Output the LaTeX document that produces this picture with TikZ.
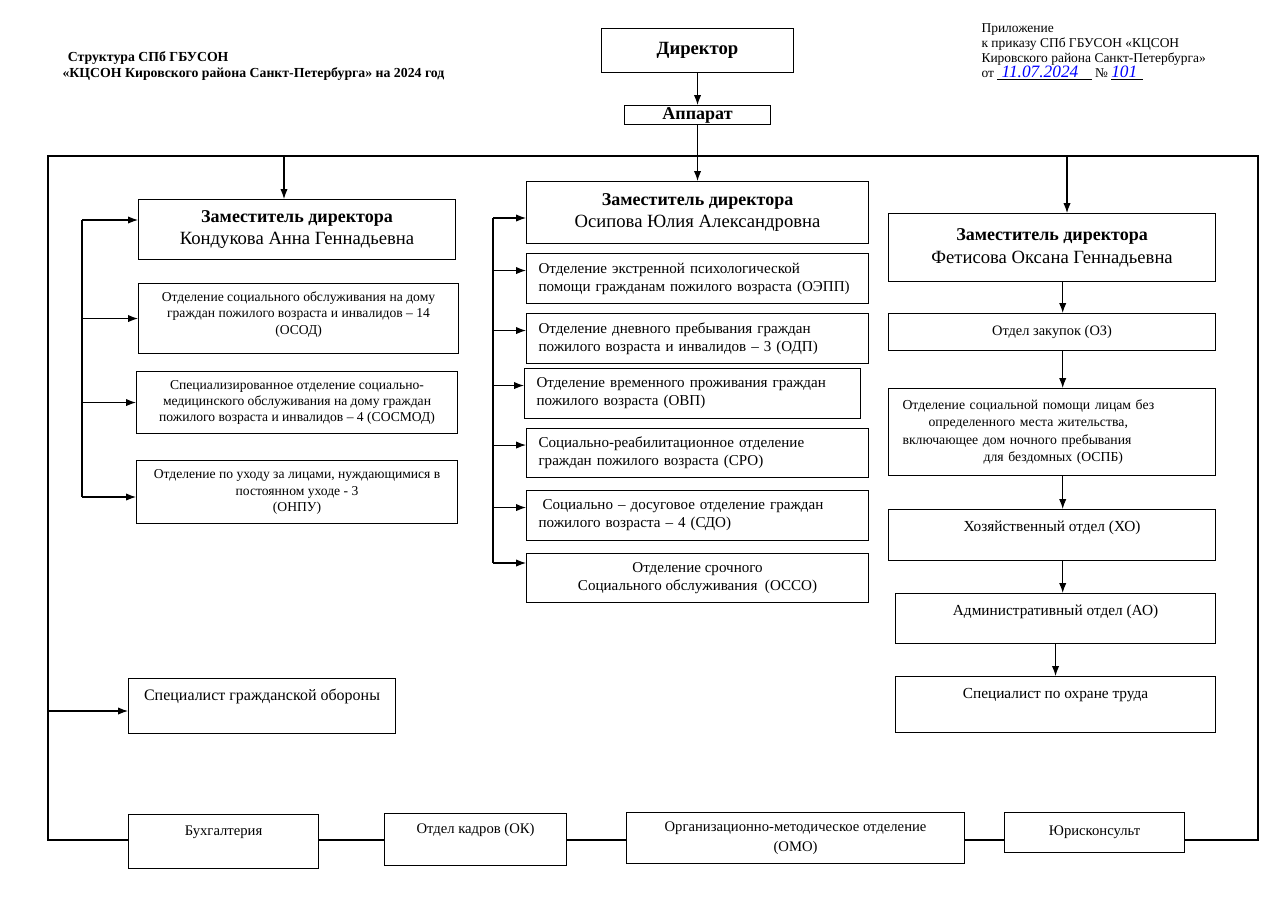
\documentclass[tikz,border=0pt]{standalone}
\usepackage{fontspec}
\setmainfont{Liberation Serif}
\usetikzlibrary{arrows.meta}

\begin{document}
\begin{tikzpicture}[x=0.75pt, y=-0.75pt, line width=0.8pt,
  >={Latex[length=7.5pt,width=5.5pt]},
  sz/.style 2 args={minimum width=#1*0.75pt, minimum height=#2*0.75pt},
  box/.style={draw, anchor=north west, align=center, inner sep=2pt},
  lbox/.style={box, align=left, text width=318*0.75pt, inner xsep=12*0.75pt},
  dep/.style={box, font=\fontsize{13.5}{17}\selectfont},
  lft/.style={box, font=\fontsize{10.2}{12.3}\selectfont},
  mid/.style={lbox, font=\fontsize{11.3}{13.5}\selectfont},
  rgt/.style={box, font=\fontsize{11.5}{14}\selectfont},
  bot/.style={box, font=\fontsize{11}{15}\selectfont}]

  \useasboundingbox (0,0) rectangle (1288,908);

  % heading and order reference
  \node[anchor=north west, align=left, inner sep=0,
        font=\bfseries\fontsize{10.35}{12}\selectfont] (title) at (62,51)
    {\hspace*{4pt}Структура СПб ГБУСОН\\«КЦСОН Кировского района Санкт-Петербурга» на 2024 год};
  \node[anchor=north west, align=left, inner sep=0,
        font=\fontsize{10.1}{11.3}\selectfont] (order) at (981,23)
    {Приложение\\к приказу СПб ГБУСОН «КЦСОН\\Кировского района Санкт-Петербурга»\\
     от \underline{\textcolor{blue}{\itshape\fontsize{13}{11}\selectfont\ 11.07.2024}\hspace{10pt}}
     № \underline{\textcolor{blue}{\itshape\fontsize{13}{11}\selectfont 101}\hspace{4pt}}};

  % top
  \node[box, sz={192}{44}, font=\bfseries\fontsize{14}{16}\selectfont] (dir) at (601,28) {Директор};
  \node[box, sz={146}{19}, inner sep=0, font=\bfseries\fontsize{13.5}{15}\selectfont] (app) at (624,105) {Аппарат};

  % left column
  \node[dep, sz={317}{60}] (kond) at (138,199)
    {{\bfseries Заместитель директора}\\{\fontsize{14}{17}\selectfont Кондукова Анна Геннадьевна}};
  \node[lft, sz={320}{70}] (osod) at (138,283)
    {Отделение социального обслуживания на дому\\граждан пожилого возраста и инвалидов – 14\\(ОСОД)\\[-4pt]\mbox{}};
  \node[lft, sz={321}{62}] (sosmod) at (136,371)
    {Специализированное отделение социально-\\медицинского обслуживания на дому граждан\\пожилого возраста и инвалидов – 4 (СОСМОД)};
  \node[lft, sz={321}{63}] (onpu) at (136,460)
    {Отделение по уходу за лицами, нуждающимися в\\постоянном уходе - 3\\(ОНПУ)};
  \node[rgt, sz={267}{55}, font=\fontsize{12}{14}\selectfont] (sgo) at (128,678)
    {Специалист гражданской обороны\\[3pt]\mbox{}};

  % middle column
  \node[dep, sz={342}{62}] (osip) at (526,181)
    {{\bfseries Заместитель директора}\\{\fontsize{14}{17}\selectfont Осипова Юлия Александровна}};
  \node[mid, sz={342}{50}] (oepp) at (526,253)
    {Отделение экстренной психологической\\помощи гражданам пожилого возраста (ОЭПП)};
  \node[mid, sz={342}{50}] (odp) at (526,313)
    {Отделение дневного пребывания граждан\\пожилого возраста и инвалидов – 3 (ОДП)};
  \node[mid, sz={336}{50}, text width=312*0.75pt] (ovp) at (524,368)
    {Отделение временного проживания граждан\\пожилого возраста (ОВП)};
  \node[mid, sz={342}{49}] (sro) at (526,428)
    {Социально-реабилитационное отделение\\граждан пожилого возраста (СРО)};
  \node[mid, sz={342}{50}] (sdo) at (526,490)
    {\hspace*{3pt}Социально – досуговое отделение граждан\\пожилого возраста – 4 (СДО)};
  \node[box, sz={342}{49}, font=\fontsize{11.3}{13.5}\selectfont] (osso) at (526,553)
    {Отделение срочного\\Социального обслуживания~ (ОССО)};

  % right column
  \node[dep, sz={327}{68}] (fet) at (888,213)
    {{\bfseries Заместитель директора}\\{\fontsize{14}{17}\selectfont Фетисова Оксана Геннадьевна}};
  \node[rgt, sz={327}{37}, font=\fontsize{10.8}{13}\selectfont] (oz) at (888,313) {Отдел закупок (ОЗ)};
  \node[box, sz={327}{87}, align=left, text width=299*0.75pt, inner xsep=14*0.75pt,
        font=\fontsize{10.3}{12.8}\selectfont] (ospb) at (888,388)
    {Отделение социальной помощи лицам без\\\hspace*{19.5pt}определенного места жительства,\\
     включающее дом ночного пребывания\\\hspace*{60.75pt}для бездомных (ОСПБ)};
  \node[rgt, sz={327}{51}] (xo) at (888,509) {Хозяйственный отдел (ХО)\\\mbox{}};
  \node[rgt, sz={320}{50}] (ao) at (895,593) {Административный отдел (АО)\\[-2pt]\mbox{}};
  \node[rgt, sz={320}{56}] (ot) at (895,676) {Специалист по охране труда\\[3pt]\mbox{}};

  % bottom row
  \node[bot, sz={190}{54}] (buh) at (128,814) {Бухгалтерия\\[2pt]\mbox{}};
  \node[bot, sz={182}{52}] (ok) at (384,813) {Отдел кадров (ОК)\\[2pt]\mbox{}};
  \node[bot, sz={338}{51}] (omo) at (626,812) {Организационно-методическое отделение\\(ОМО)};
  \node[bot, sz={180}{40}] (jur) at (1004,812) {Юрисконсульт};

  % frame
  \coordinate (busL) at (48,156);
  \coordinate (busR) at (1258,156);
  \coordinate (busLB) at (48,840);
  \coordinate (busRB) at (1258,840);
  \coordinate (kt) at (284,156);
  \coordinate (ft) at (1067,156);
  \coordinate (gt) at (48,711);

  \draw[->] (dir.south) -- (app.north);
  \draw[->] (app.south) -- (osip.north);
  \draw (busLB -| buh.west) -- (busLB) -- (busL) -- (busR) -- (busRB) -- (busRB -| jur.east);
  \draw[->] (kt) -- (kt |- kond.north);
  \draw[->] (ft) -- (ft |- fet.north);
  \draw[->] (gt) -- (gt -| sgo.west);
  \foreach \a/\b in {buh/ok, ok/omo, omo/jur}
    \draw (\a.east |- busLB) -- (busLB -| \b.west);

  % left feeder
  \coordinate (lf) at (82,220);
  \coordinate (lfb) at (82,497);
  \draw (lf) -- (lfb);
  \draw[->] (lf) -- (lf -| kond.west);
  \draw[->] (lfb) -- (lfb -| onpu.west);
  \foreach \n in {osod,sosmod}
    \draw[->] (lf |- \n.west) -- (\n.west);

  % middle feeder
  \coordinate (mf) at (493,218);
  \coordinate (mfb) at (493,563);
  \draw (mf) -- (mfb);
  \draw[->] (mf) -- (mf -| osip.west);
  \draw[->] (mfb) -- (mfb -| osso.west);
  \foreach \n in {oepp,odp,ovp,sro,sdo}{
    \path ([yshift=6pt]\n.west) coordinate (\n-in);
    \draw[->] (mf |- \n-in) -- (\n-in);
  }

  % right chain
  \foreach \a/\b in {fet/oz, oz/ospb, ospb/xo, xo/ao}
    \draw[->] ([xshift=8pt]\a.south) -- ([xshift=8pt]\a.south |- \b.north);
  \draw[->] (ao.south) -- (ot.north);

\end{tikzpicture}
\end{document}
